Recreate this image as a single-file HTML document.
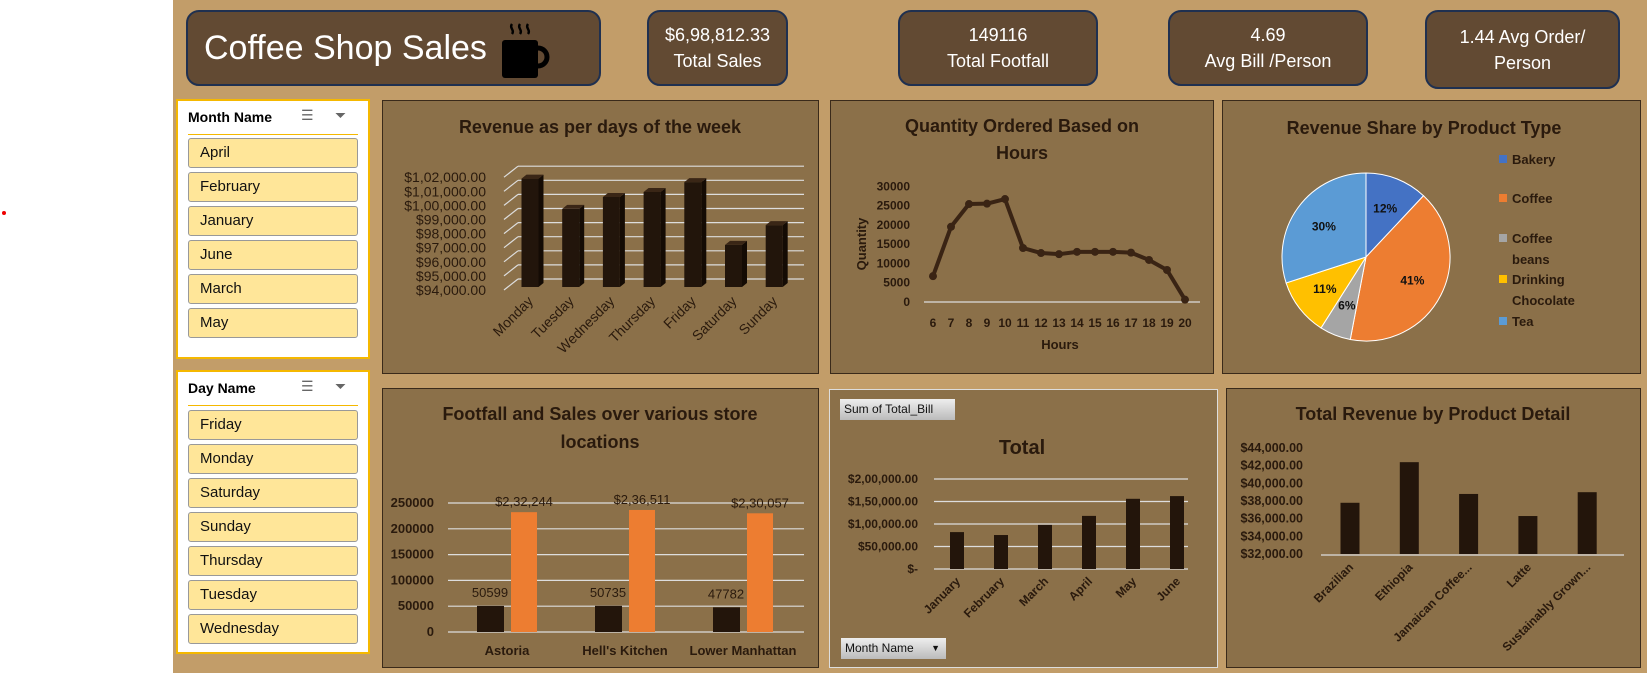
<!DOCTYPE html>
<html><head><meta charset="utf-8">
<style>
*{box-sizing:border-box;margin:0;padding:0}
body{width:1647px;height:673px;overflow:hidden;background:#fff;font-family:"Liberation Sans",sans-serif;position:relative}
.bg{position:absolute;left:173px;top:0;width:1474px;height:673px;background:#c29d69}
.kpi{position:absolute;background:#624a33;border:2px solid #1f3050;border-radius:13px;color:#fff;text-align:center;font-size:18px;line-height:26px;display:flex;flex-direction:column;justify-content:center}
.slicer{position:absolute;left:176px;width:194px;background:#fff;border:2px solid #f5b800}
.sh{position:absolute;left:10px;top:8px;font-weight:bold;font-size:14px;color:#000}
.sep{position:absolute;left:10px;right:10px;top:33px;height:1px;background:#f5b800}
.ic{position:absolute;top:6px;font-size:14px;color:#666}
.item{position:absolute;left:10px;width:170px;height:30px;background:#ffe699;border:1px solid #999;border-radius:3px;font-size:15px;line-height:28px;padding-left:11px;color:#111}
.panel{position:absolute;background:#8b7049;border:1px solid #3a2a1a}
svg{position:absolute;left:0;top:0}
</style></head><body>
<div class="bg"></div>
<div style="position:absolute;left:2px;top:211px;width:4px;height:4px;border-radius:2px;background:#e00"></div>

<div class="kpi" style="left:186px;top:10px;width:415px;height:76px;align-items:flex-start;padding-left:16px;font-size:34px">Coffee Shop Sales
<svg style="left:310px;top:8px" width="60" height="60" viewBox="0 0 60 60"><path d="M14 4c-3 4 3 6 0 10M22 4c-3 4 3 6 0 10M30 4c-3 4 3 6 0 10" stroke="#000" stroke-width="2.5" fill="none"/><rect x="4" y="20" width="36" height="38" rx="3" fill="#000"/><path d="M40 28a8 8 0 0 1 0 18" stroke="#000" stroke-width="5" fill="none"/></svg></div>
<div class="kpi" style="left:647px;top:10px;width:141px;height:76px"><div>$6,98,812.33</div><div>Total Sales</div></div>
<div class="kpi" style="left:898px;top:10px;width:200px;height:76px"><div>149116</div><div>Total Footfall</div></div>
<div class="kpi" style="left:1168px;top:10px;width:200px;height:76px"><div>4.69</div><div>Avg Bill /Person</div></div>
<div class="kpi" style="left:1425px;top:10px;width:195px;height:79px"><div>1.44 Avg Order/</div><div>Person</div></div>

<div class="slicer" style="top:99px;height:260px">
<div class="sh">Month Name</div>
<div class="ic" style="left:123px">☰</div>
<div class="ic" style="left:157px">⏷</div>
<div class="sep"></div>
<div class="item" style="top:37px">April</div>
<div class="item" style="top:71px">February</div>
<div class="item" style="top:105px">January</div>
<div class="item" style="top:139px">June</div>
<div class="item" style="top:173px">March</div>
<div class="item" style="top:207px">May</div>
</div>
<div class="slicer" style="top:370px;height:284px">
<div class="sh">Day Name</div>
<div class="ic" style="left:123px">☰</div>
<div class="ic" style="left:157px">⏷</div>
<div class="sep"></div>
<div class="item" style="top:38px">Friday</div>
<div class="item" style="top:72px">Monday</div>
<div class="item" style="top:106px">Saturday</div>
<div class="item" style="top:140px">Sunday</div>
<div class="item" style="top:174px">Thursday</div>
<div class="item" style="top:208px">Tuesday</div>
<div class="item" style="top:242px">Wednesday</div>
</div>

<div class="panel" style="left:382px;top:100px;width:437px;height:274px"></div>
<div class="panel" style="left:830px;top:100px;width:384px;height:274px"></div>
<div class="panel" style="left:1222px;top:100px;width:419px;height:274px"></div>
<div class="panel" style="left:382px;top:388px;width:437px;height:280px"></div>
<div class="panel" style="left:829px;top:389px;width:389px;height:279px;border-color:#ddd"></div>
<div class="panel" style="left:1226px;top:388px;width:415px;height:280px"></div>

<div style="position:absolute;left:840px;top:399px;width:115px;height:21px;background:linear-gradient(#eee,#bbb);font-size:12px;line-height:21px;padding-left:4px;color:#111">Sum of Total_Bill</div>
<div style="position:absolute;left:841px;top:638px;width:105px;height:21px;background:linear-gradient(#eee,#bbb);font-size:12px;line-height:21px;padding-left:4px;color:#111">Month Name <span style="position:absolute;right:6px;font-size:9px">▼</span></div>

<svg id="charts" width="1647" height="673"></svg>

<script>
// ---- data ----
const days = ["Monday","Tuesday","Wednesday","Thursday","Friday","Saturday","Sunday"];
const dayRevenue = [101900, 99750, 100600, 100950, 101650, 97200, 98600];
const dayTicks = [94000,95000,96000,97000,98000,99000,100000,101000,102000];
const dayTickLabels = ["$94,000.00","$95,000.00","$96,000.00","$97,000.00","$98,000.00","$99,000.00","$1,00,000.00","$1,01,000.00","$1,02,000.00"];

const hours = [6,7,8,9,10,11,12,13,14,15,16,17,18,19,20];
const hourQty = [6700,19500,25400,25500,26700,14000,12700,12400,13000,13000,13000,12800,10900,8300,600];
const qtyTicks = [0,5000,10000,15000,20000,25000,30000];

const productTypes = ["Bakery","Coffee","Coffee beans","Drinking Chocolate","Tea"];
const productShare = [12,41,6,11,30];
const pieColors = ["#4472c4","#ed7d31","#a5a5a5","#ffc000","#5b9bd5"];

const stores = ["Astoria","Hell's Kitchen","Lower Manhattan"];
const storeFootfall = [50599,50735,47782];
const storeSales = [232244,236511,230057];
const storeSalesLabels = ["$2,32,244","$2,36,511","$2,30,057"];
const storeTicks = [0,50000,100000,150000,200000,250000];

const months = ["January","February","March","April","May","June"];
const monthTotal = [82000,75500,98000,118000,156000,162000];
const monthTicks = [0,50000,100000,150000,200000];
const monthTickLabels = ["$-","$50,000.00","$1,00,000.00","$1,50,000.00","$2,00,000.00"];

const products = ["Brazilian","Ethiopia","Jamaican Coffee...","Latte","Sustainably Grown..."];
const productRevenue = [37800,42400,38800,36300,39000];
const productTicks = [32000,34000,36000,38000,40000,42000,44000];
const productTickLabels = ["$32,000.00","$34,000.00","$36,000.00","$38,000.00","$40,000.00","$42,000.00","$44,000.00"];

const NS="http://www.w3.org/2000/svg";
const svg=document.getElementById('charts');
const DARK="#2a1a0d";
function mk(tag,attrs,txt){const e=document.createElementNS(NS,tag);for(const k in attrs)e.setAttribute(k,attrs[k]);if(txt!==undefined)e.textContent=txt;svg.appendChild(e);return e;}
function title(x,y,t,size){const e=mk('text',{x:x,y:y,'text-anchor':'middle','font-size':size||18,'font-weight':'bold',fill:DARK},t);

}

// ---- chart 1 ----
title(600,133,"Revenue as per days of the week");
const y1=v=>290-(v-94000)*0.0141;
const x1=i=>530+i*40.7;
dayTicks.forEach((t,i)=>{
  const y=y1(t);
  const g=mk('line',{x1:518,y1:y-11,x2:804,y2:y-11,stroke:"#ddd","stroke-width":1.2});
  
  
  mk('line',{x1:504,y1:y,x2:518,y2:y-11,stroke:"#ddd","stroke-width":1.2});
  const l=mk('text',{x:486,y:y+5,'text-anchor':'end','font-size':14,fill:DARK},dayTickLabels[i]);
  
  
});
dayRevenue.forEach((v,i)=>{
  const x=x1(i)-8.5, top=y1(v), bot=287;
  const f=mk('rect',{x:x,y:top,width:17,height:bot-top,fill:"#22150b"});
  
  
  mk('polygon',{points:`${x+17},${top} ${x+22},${top-4} ${x+22},${bot-4} ${x+17},${bot}`,fill:"#140b04"});
  mk('polygon',{points:`${x},${top} ${x+5},${top-4} ${x+22},${top-4} ${x+17},${top}`,fill:"#3a2616"});
  const l=mk('text',{x:x1(i)+4,y:302,'text-anchor':'end','font-size':14,fill:DARK,transform:`rotate(-45 ${x1(i)+4} 302)`},days[i]);
  
  
});

// ---- chart 2 ----
title(1022,132,"Quantity Ordered Based on");
title(1022,159,"Hours");
const y2=v=>302-v*0.003857;
const x2=h=>933+(h-6)*18.0;
mk('line',{x1:924,y1:302,x2:1200,y2:302,stroke:"#ddd","stroke-width":1.2});
qtyTicks.forEach(t=>{
  const l=mk('text',{x:910,y:y2(t)+4,'text-anchor':'end','font-size':12,'font-weight':'bold',fill:DARK},String(t));
  
  
});
hours.forEach(h=>{
  const l=mk('text',{x:x2(h),y:327,'text-anchor':'middle','font-size':12,'font-weight':'bold',fill:DARK},String(h));
  
  
});
const ln=mk('polyline',{points:hours.map((h,i)=>x2(h)+','+y2(hourQty[i])).join(' '),fill:"none",stroke:"#3a2414","stroke-width":4,"stroke-linejoin":"round"});


hours.forEach((h,i)=>{
  const c=mk('circle',{cx:x2(h),cy:y2(hourQty[i]),r:4,fill:"#3a2414"});
  
  
});
let t2=mk('text',{x:1060,y:349,'text-anchor':'middle','font-size':13,'font-weight':'bold',fill:DARK},"Hours");


t2=mk('text',{x:0,y:0,'text-anchor':'middle','font-size':13,'font-weight':'bold',fill:DARK,transform:'translate(866 244) rotate(-90)'},"Quantity");



// ---- chart 3: pie ----
title(1424,134,"Revenue Share by Product Type");
const cx=1366, cy=257, R=84;
let acc=0;
productShare.forEach((p,i)=>{
  const a0=acc/100*2*Math.PI, a1=(acc+p)/100*2*Math.PI; acc+=p;
  const px=a=>cx+R*Math.sin(a), py=a=>cy-R*Math.cos(a);
  const s=mk('path',{d:`M${cx},${cy} L${px(a0)},${py(a0)} A${R},${R} 0 ${p>50?1:0} 1 ${px(a1)},${py(a1)} Z`,fill:pieColors[i],stroke:"#fff","stroke-width":1});
  
  
  const am=(a0+a1)/2, rr=R*0.62;
  const l=mk('text',{x:cx+rr*Math.sin(am),y:cy-rr*Math.cos(am)+4,'text-anchor':'middle','font-size':12,'font-weight':'bold',fill:"#111"},p+'%');
  
  
});
const legY=[[164],[203],[243,264],[284,305],[326]];
const legTxt=[["Bakery"],["Coffee"],["Coffee","beans"],["Drinking","Chocolate"],["Tea"]];
productTypes.forEach((p,i)=>{
  const sq=mk('rect',{x:1499,y:legY[i][0]-9,width:8,height:8,fill:pieColors[i]});
  
  
  legTxt[i].forEach((t,j)=>{mk('text',{x:1512,y:legY[i][j],'font-size':13,'font-weight':'bold',fill:DARK},t);});
});

// ---- chart 4 ----
title(600,420,"Footfall and Sales over various store");
title(600,448,"locations");
const y4=v=>632-v*0.000516;
const g4=i=>507+i*118;
storeTicks.forEach(t=>{
  mk('line',{x1:448,y1:y4(t),x2:804,y2:y4(t),stroke:"#ddd","stroke-width":1.2});
  const l=mk('text',{x:434,y:y4(t)+4,'text-anchor':'end','font-size':13,'font-weight':'bold',fill:DARK},String(t));
  
  
});
stores.forEach((s,i)=>{
  let b=mk('rect',{x:g4(i)-30,y:y4(storeFootfall[i]),width:27,height:632-y4(storeFootfall[i]),fill:"#23150b"});
  
  
  b=mk('rect',{x:g4(i)+4,y:y4(storeSales[i]),width:26,height:632-y4(storeSales[i]),fill:"#ed7d31"});
  
  
  mk('text',{x:g4(i)-17,y:y4(storeFootfall[i])-9,'text-anchor':'middle','font-size':13,fill:DARK},String(storeFootfall[i]));
  mk('text',{x:g4(i)+17,y:y4(storeSales[i])-6,'text-anchor':'middle','font-size':13,fill:DARK},storeSalesLabels[i]);
  const l=mk('text',{x:g4(i),y:655,'text-anchor':'middle','font-size':13,'font-weight':'bold',fill:DARK},s);
  
  
});

// ---- chart 5 ----
title(1022,454,"Total",20);
const y5=v=>569-v*0.00045;
const x5=i=>957+i*44;
monthTicks.forEach((t,i)=>{
  mk('line',{x1:934,y1:y5(t),x2:1188,y2:y5(t),stroke:"#ddd","stroke-width":1.2});
  const l=mk('text',{x:918,y:y5(t)+4,'text-anchor':'end','font-size':12,'font-weight':'bold',fill:DARK},monthTickLabels[i]);
  
  
});
months.forEach((m,i)=>{
  const b=mk('rect',{x:x5(i)-7,y:y5(monthTotal[i]),width:14,height:569-y5(monthTotal[i]),fill:"#23150b"});
  
  
  const l=mk('text',{x:x5(i)+4,y:582,'text-anchor':'end','font-size':12,'font-weight':'bold',fill:DARK,transform:`rotate(-45 ${x5(i)+4} 582)`},m);
  
  
});

// ---- chart 6 ----
title(1433,420,"Total Revenue by Product Detail");
const y6=v=>554-(v-32000)*0.00883;
const x6=i=>1350+i*59.3;
mk('line',{x1:1321,y1:555,x2:1624,y2:555,stroke:"#ddd","stroke-width":1.2});
productTicks.forEach((t,i)=>{
  const l=mk('text',{x:1303,y:y6(t)+4,'text-anchor':'end','font-size':12.5,'font-weight':'bold',fill:DARK},productTickLabels[i]);
  
  
});
products.forEach((p,i)=>{
  const b=mk('rect',{x:x6(i)-9.5,y:y6(productRevenue[i]),width:19,height:554-y6(productRevenue[i]),fill:"#23150b"});
  
  
  const l=mk('text',{x:x6(i)+4,y:568,'text-anchor':'end','font-size':12,'font-weight':'bold',fill:DARK,transform:`rotate(-45 ${x6(i)+4} 568)`},p);
  
  
});
</script>
</body></html>
